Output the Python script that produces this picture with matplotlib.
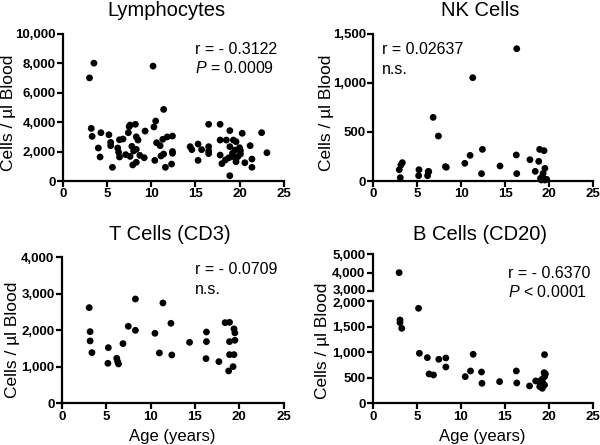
import matplotlib
matplotlib.use("Agg")
import matplotlib.pyplot as plt
import matplotlib.transforms as mtransforms

plt.rcParams['font.family'] = ['Liberation Sans', 'DejaVu Sans']
plt.rcParams['mathtext.fontset'] = 'custom'
plt.rcParams['mathtext.it'] = 'Liberation Sans:italic'
plt.rcParams['mathtext.rm'] = 'Liberation Sans'

# ---------------- data ----------------
lym_age = [3.0, 3.5, 3.2, 3.3, 4.0, 4.2, 4.3, 5.2, 5.4, 5.4, 5.6, 6.2, 6.3, 6.4, 6.4,
           6.8, 7.1, 7.4, 7.5, 7.6, 7.6, 7.8, 7.9, 8.0, 8.2, 8.3, 8.3, 8.3, 8.5, 8.7,
           9.2, 9.3, 10.2, 10.3, 10.5, 10.4, 10.6, 11.0, 11.3, 11.4, 11.4, 11.1, 11.6,
           11.8, 12.3, 12.4, 12.4, 12.4, 14.4, 14.6, 15.3, 15.3, 15.7, 16.5, 16.5, 16.5,
           16.5, 17.8, 17.8, 17.8, 18.0, 18.4, 18.9, 18.5, 18.9, 18.8, 18.9, 19.3, 19.6,
           19.2, 19.3, 19.5, 19.6, 19.8, 20.0, 20.1, 20.1, 20.3, 20.6, 21.2, 21.4, 21.4,
           22.5, 23.1]
lym_val = [7000, 8000, 3570, 3030, 2240, 1630, 3280, 3140, 2620, 2400, 930, 2240, 1950, 1630, 2800,
           2850, 1790, 3280, 3690, 3800, 1670, 2350, 1090, 2040, 3850, 3000, 2150, 1270, 2780, 1740,
           1580, 3390, 7800, 3670, 4070, 1400, 2600, 2400, 2830, 4860, 1830, 1700, 930,
           2990, 1150, 3050, 2000, 1880, 2330, 2130, 2510, 1400, 2130, 2330, 2040, 3850,
           1860, 3850, 2780, 1760, 1180, 1430, 3420, 2780, 2330, 1580, 360, 2780, 2670,
           1880, 1650, 2100, 1310, 1650, 2260, 1830, 2060, 3240, 1240, 2400, 1490, 930,
           3280, 1920]

nk_age = [2.95, 3.14, 3.3, 3.07, 5.19, 5.15, 6.25, 6.17, 6.3, 6.8, 7.4, 8.2, 8.3, 10.4, 11.0,
          11.3, 12.3, 12.4, 14.4, 16.3, 16.25, 16.3, 17.8, 18.4, 18.8, 18.9, 19.4, 19.2,
          19.3, 19.5, 19.4, 19.5, 19.0, 19.7, 19.1]
nk_val = [115, 163, 187, 34, 115, 54, 98, 54, 95, 648, 458, 146, 140, 180, 261,
          1052, 75, 322, 153, 1347, 265, 75, 217, 98, 200, 322, 309, 44,
          78, 129, 24, 10, 27, 17, 10]

t_age = [3.1, 3.2, 3.2, 3.4, 5.25, 5.2, 6.2, 6.3, 6.4, 6.9, 7.5, 8.3, 8.3, 10.5, 11.0, 11.4,
         12.3, 12.4, 14.4, 16.3, 16.3, 16.25, 17.7, 18.4, 18.9, 18.9, 18.9, 18.8, 19.4,
         19.3, 19.4, 19.5, 19.5]
t_val = [2621, 1963, 1708, 1388, 1525, 1096, 1233, 1142, 1078, 1635, 2110, 2858, 2000, 1918,
         1379, 2749, 2192, 1324, 1671, 1954, 1690, 1224, 1142, 2210, 2219, 1690, 1333, 886,
         1333, 1005, 2040, 1930, 1726]

b_age = [3.0, 3.1, 3.1, 3.3, 5.2, 5.3, 6.2, 6.4, 6.9, 7.5, 8.3, 8.3, 10.5, 11.1, 11.4, 12.35,
         12.4, 14.4, 16.3, 16.35, 17.8, 18.5, 18.9, 18.95, 19.5, 19.45, 19.5, 19.3, 19.5,
         19.2, 19.6, 19.25]
b_val = [4000, 1634, 1582, 1470, 1863, 980, 895, 575, 556, 863, 889, 712, 523, 634, 961, 614,
         392, 425, 634, 399, 340, 438, 425, 327, 954, 601, 523, 405, 360,
         470, 575, 294]

x_ticks = [0, 5, 10, 15, 20, 25]
W, H = 600, 445

fig = plt.figure(figsize=(6.0, 4.45), dpi=100)


def rect(x0, y0, x1, y1):
    return [x0 / W, 1 - y1 / H, (x1 - x0) / W, (y1 - y0) / H]


TICK_FS = 9.5


def style(ax, yticks, show_x=True):
    for s in ['top', 'right']:
        ax.spines[s].set_visible(False)
    for s in ['left', 'bottom']:
        ax.spines[s].set_linewidth(1.6)
    ax.set_xlim(0, 25)
    ax.set_xticks(x_ticks)
    ax.set_xticklabels([str(v) for v in x_ticks], fontweight='bold', fontsize=TICK_FS)
    ax.set_yticks(yticks)
    ax.set_yticklabels([f"{v:,}" for v in yticks], fontweight='bold', fontsize=TICK_FS)
    ax.tick_params(direction='out', length=4, width=1.6, pad=1.2)
    if not show_x:
        ax.spines['bottom'].set_visible(False)
        ax.tick_params(axis='x', bottom=False, labelbottom=False)


def scatter(ax, x, y):
    ax.scatter(x, y, s=24, color='black', edgecolors='none', clip_on=False, zorder=3)


# Panel 1: Lymphocytes
ax1 = fig.add_axes(rect(63, 33.7, 283.7, 181))
scatter(ax1, lym_age, lym_val)
ax1.set_ylim(0, 10000)
style(ax1, [0, 2000, 4000, 6000, 8000, 10000])

# Panel 2: NK cells
ax2 = fig.add_axes(rect(373.3, 33.7, 593.3, 181))
scatter(ax2, nk_age, nk_val)
ax2.set_ylim(0, 1500)
style(ax2, [0, 500, 1000, 1500])

# Panel 3: T cells
ax3 = fig.add_axes(rect(61.7, 257.3, 283.7, 403.3))
scatter(ax3, t_age, t_val)
ax3.set_ylim(0, 4000)
style(ax3, [0, 1000, 2000, 3000, 4000])

# Panel 4: B cells (broken axis)
ax4 = fig.add_axes(rect(372.7, 301.3, 593, 403.3))
ax4u = fig.add_axes(rect(372.7, 254.3, 593, 291))
lo = [(a, v) for a, v in zip(b_age, b_val) if v <= 2000]
hi = [(a, v) for a, v in zip(b_age, b_val) if v >= 3000]
scatter(ax4, [p[0] for p in lo], [p[1] for p in lo])
scatter(ax4u, [p[0] for p in hi], [p[1] for p in hi])
ax4.set_ylim(0, 2000)
ax4u.set_ylim(3000, 5000)
ax4u.patch.set_alpha(0)
style(ax4, [0, 500, 1000, 1500, 2000])
style(ax4u, [3000, 4000, 5000], show_x=False)
# nudge the two crowded labels at the break apart
up = mtransforms.ScaledTranslation(0, 1.5 / 100, fig.dpi_scale_trans)
dn = mtransforms.ScaledTranslation(0, -1.5 / 100, fig.dpi_scale_trans)
lab3000 = ax4u.get_yticklabels()[0]
lab3000.set_transform(lab3000.get_transform() + up)
lab2000 = ax4.get_yticklabels()[-1]
lab2000.set_transform(lab2000.get_transform() + dn)

# titles
fig.text(166 / W, 1 - 10 / H, "Lymphocytes", ha='center', va='center', fontsize=14.5)
fig.text(480 / W, 1 - 10 / H, "NK Cells", ha='center', va='center', fontsize=14.5)
fig.text(170 / W, 1 - 234 / H, "T Cells (CD3)", ha='center', va='center', fontsize=14.5)
fig.text(480 / W, 1 - 234 / H, "B Cells (CD20)", ha='center', va='center', fontsize=14.5)

# y labels
ylab = "Cells / µl Blood"
fig.text(9 / W, 1 - 113 / H, ylab, rotation=90, ha='center', va='center', fontsize=12.5)
fig.text(327 / W, 1 - 113 / H, ylab, rotation=90, ha='center', va='center', fontsize=12.5)
fig.text(13 / W, 1 - 340 / H, ylab, rotation=90, ha='center', va='center', fontsize=12.5)
fig.text(322 / W, 1 - 341 / H, ylab, rotation=90, ha='center', va='center', fontsize=12.5)

# x labels
fig.text(172 / W, 1 - 437 / H, "Age (years)", ha='center', va='center', fontsize=12)
fig.text(482 / W, 1 - 437 / H, "Age (years)", ha='center', va='center', fontsize=12)

# annotations
fs = 11.5
fig.text(195 / W, 1 - 50 / H, "r = - 0.3122", ha='left', va='center', fontsize=fs)
fig.text(195 / W, 1 - 68 / H, r"$\mathit{P}$ = 0.0009", ha='left', va='center', fontsize=fs)
fig.text(382 / W, 1 - 50 / H, "r = 0.02637", ha='left', va='center', fontsize=fs)
fig.text(382 / W, 1 - 70 / H, "n.s.", ha='left', va='center', fontsize=fs)
fig.text(195 / W, 1 - 270 / H, "r = - 0.0709", ha='left', va='center', fontsize=fs)
fig.text(195 / W, 1 - 290 / H, "n.s.", ha='left', va='center', fontsize=fs)
fig.text(508 / W, 1 - 274 / H, "r = - 0.6370", ha='left', va='center', fontsize=fs)
fig.text(508 / W, 1 - 292 / H, r"$\mathit{P}$ < 0.0001", ha='left', va='center', fontsize=fs)

fig.savefig("out.png", dpi=100)
